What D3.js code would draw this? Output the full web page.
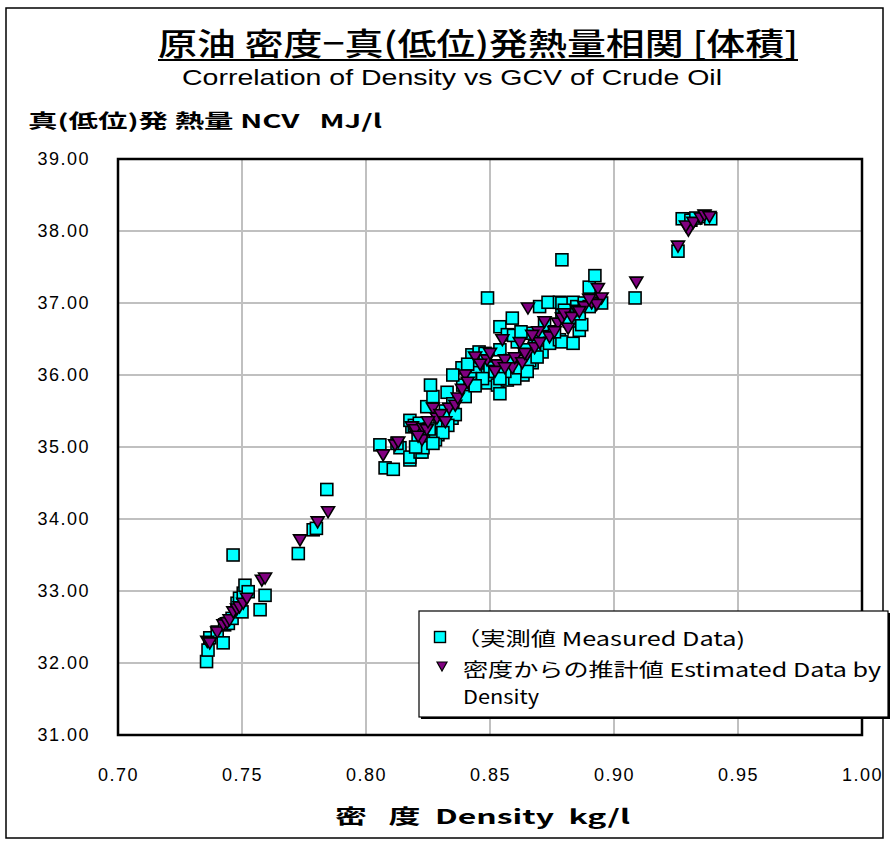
<!DOCTYPE html>
<html>
<head>
<meta charset="utf-8">
<script src="https://cdn.jsdelivr.net/npm/d3@7/dist/d3.min.js"></script>
<style>
  html, body { margin: 0; padding: 0; background: #fff; }
  svg { display: block; }
  .jp { font-family: "Noto Sans CJK JP", "Noto Sans", sans-serif; }
  .num { font-family: "Liberation Sans", Arial, sans-serif; }
  .narrow { font-family: "Liberation Sans Narrow", "Liberation Sans", Arial, sans-serif; }
</style>
</head>
<body>
<svg id="chart" width="893" height="842"></svg>
<script>
// Measured crude oil samples: [density kg/l, net calorific value MJ/l]
const measured = [
  [0.7357,32.02],[0.7363,32.18],[0.7370,32.35],[0.7400,32.43],[0.7424,32.28],[0.7430,32.53],
  [0.7445,32.55],[0.7460,32.62],[0.7480,32.83],[0.7490,32.90],[0.7500,32.71],[0.7505,32.97],
  [0.7512,33.08],[0.7525,32.99],[0.7573,32.74],[0.7593,32.94],[0.7464,33.50],
  [0.7727,33.52],[0.7787,33.85],[0.7800,33.87],[0.7842,34.41],
  [0.8056,35.03],[0.8077,34.71],[0.8110,34.69],[0.8137,34.99],[0.8125,35.05],[0.8177,34.82],
  [0.8177,34.86],[0.8218,34.93],[0.8226,34.93],[0.8230,35.05],[0.8230,34.99],[0.8185,35.28],
  [0.8177,35.37],[0.8245,35.56],[0.8270,35.70],[0.8260,35.86],[0.8290,35.17],[0.8298,35.35],
  [0.8327,35.76],[0.8347,35.40],[0.8390,35.86],[0.8400,35.70],[0.8387,36.10],[0.8427,36.28],
  [0.8448,36.10],[0.8456,36.32],[0.8490,35.89],[0.8490,36.00],[0.8490,37.07],[0.8530,35.86],
  [0.8540,35.74],[0.8540,36.35],[0.8540,36.67],[0.8570,36.56],[0.8570,35.93],[0.8590,36.79],
  [0.8610,36.46],[0.8633,36.00],[0.8653,36.58],[0.8670,36.17],[0.8700,36.95],[0.8700,36.56],
  [0.8710,36.32],[0.8734,37.01],[0.8740,36.44],[0.8780,37.01],[0.8780,36.49],[0.8790,36.83],
  [0.8790,37.00],[0.8790,37.60],[0.8790,36.46],[0.8835,37.01],[0.8835,36.44],[0.8860,36.62],
  [0.8900,37.22],[0.8923,37.38],[0.8950,37.00],
  [0.8320,35.50],[0.8350,35.60],[0.8360,35.45],[0.8420,35.95],[0.8450,36.20],[0.8480,36.30],
  [0.8280,35.10],[0.8210,35.15],[0.8240,35.30],[0.8500,36.10],[0.8520,36.05],[0.8600,35.95],
  [0.8620,36.10],[0.8660,36.20],[0.8680,36.40],[0.8720,36.70],[0.8760,36.60],[0.8820,36.75],
  [0.8800,36.90],[0.8850,36.95],[0.8870,36.70],[0.8880,37.00],[0.8900,36.95],[0.8860,36.85],
  [0.8640,36.35],[0.8580,36.20],[0.8560,36.05],[0.8470,35.95],[0.8440,35.85],[0.8330,35.30],
  [0.8310,35.20],[0.8270,35.05],[0.8200,35.00],
  [0.8195,35.30],[0.8215,35.33],[0.8255,35.25],[0.8350,36.00],[0.8410,36.15],[0.8595,36.55],
  [0.8625,36.60],[0.8650,36.05],[0.8540,35.95],[0.8690,36.25],
  [0.9085,37.07],[0.9258,37.72],[0.9275,38.17],[0.9310,38.15],[0.9330,38.18],[0.9365,38.20],
  [0.9390,38.17]
];

// Values estimated from density: [density kg/l, net calorific value MJ/l]
const estimated = [
  [0.7360,32.30],[0.7370,32.28],[0.7400,32.43],[0.7425,32.53],[0.7440,32.56],[0.7450,32.60],
  [0.7465,32.71],[0.7480,32.75],[0.7490,32.78],[0.7505,32.83],[0.7520,32.90],[0.7580,33.15],
  [0.7593,33.18],
  [0.7734,33.71],[0.7805,33.96],[0.7847,34.10],
  [0.8069,34.89],[0.8117,35.03],[0.8130,35.07],[0.8185,35.28],[0.8198,35.24],[0.8226,35.10],
  [0.8230,35.26],[0.8245,35.24],[0.8270,35.54],[0.8286,35.40],[0.8335,35.54],[0.8360,35.58],
  [0.8370,35.68],[0.8387,35.80],[0.8400,36.00],[0.8440,36.25],[0.8488,36.21],[0.8530,36.14],
  [0.8550,36.49],[0.8560,36.21],[0.8590,36.10],[0.8600,36.24],[0.8630,36.17],[0.8649,36.28],
  [0.8653,36.93],[0.8680,36.38],[0.8694,36.60],[0.8720,36.74],[0.8740,36.53],[0.8774,36.72],
  [0.8790,36.79],[0.8815,36.65],[0.8850,36.90],[0.8880,36.95],[0.8910,37.00],[0.8935,37.20],
  [0.8950,37.07],[0.8930,36.98],[0.8900,37.05],
  [0.8300,35.45],[0.8320,35.35],[0.8410,35.90],[0.8460,36.15],[0.8520,36.05],[0.8560,36.10],
  [0.8640,36.30],[0.8700,36.45],[0.8760,36.60],[0.8800,36.85],[0.8830,36.80],[0.8860,36.88],
  [0.8250,35.35],[0.8210,35.15],[0.8500,36.30],[0.8620,36.45],[0.8670,36.55],
  [0.9090,37.29],[0.9258,37.79],[0.9300,38.01],[0.9290,38.07],[0.9320,38.12],[0.9350,38.18],
  [0.9365,38.22],[0.9385,38.20]
];

const xTicks = [0.70, 0.75, 0.80, 0.85, 0.90, 0.95, 1.00];
const yTicks = [31, 32, 33, 34, 35, 36, 37, 38, 39];

const titleText = "原油 密度−真(低位)発熱量相関 [体積]";
const subtitleText = "Correlation of Density vs GCV of Crude Oil";
const yTitleText = "真(低位)発 熱量 NCV\u00a0\u00a0\u00a0MJ/l";
const xTitleText = "密\u00a0\u00a0\u00a0度\u00a0\u00a0Density\u00a0\u00a0kg/l";
const legendLabels = ["（実測値 Measured Data)", "密度からの推計値 Estimated Data by", "Density"];

const svg = d3.select("#chart");
const plot = { left: 118, right: 862, top: 159, bottom: 735 };

const x = d3.scaleLinear().domain([0.70, 1.00]).range([plot.left, plot.right]);
const y = d3.scaleLinear().domain([31, 39]).range([plot.bottom, plot.top]);

// Outer chart frame
svg.append("rect")
  .attr("x", 6).attr("y", 8).attr("width", 877).attr("height", 830)
  .attr("fill", "#fff").attr("stroke", "#000").attr("stroke-width", 1.5);

// Titles
svg.append("text").attr("class", "jp")
  .attr("x", 158).attr("y", 55)
  .attr("textLength", 640).attr("lengthAdjust", "spacingAndGlyphs")
  .attr("font-size", 31).attr("font-weight", 500)
  .text(titleText);
svg.append("line")
  .attr("x1", 158).attr("x2", 798).attr("y1", 60).attr("y2", 60)
  .attr("stroke", "#000").attr("stroke-width", 2);

svg.append("text").attr("class", "narrow")
  .attr("x", 182).attr("y", 85)
  .attr("textLength", 540).attr("lengthAdjust", "spacingAndGlyphs")
  .attr("font-size", 22)
  .text(subtitleText);

svg.append("text").attr("class", "jp")
  .attr("x", 28).attr("y", 128)
  .attr("textLength", 354).attr("lengthAdjust", "spacingAndGlyphs")
  .attr("font-size", 19).attr("font-weight", 700)
  .text(yTitleText);

// Gridlines
const grid = svg.append("g");
grid.selectAll("line.h").data(yTicks.filter(t => t > 31 && t < 39)).join("line")
  .attr("x1", plot.left).attr("x2", plot.right)
  .attr("y1", d => y(d)).attr("y2", d => y(d))
  .attr("stroke", "#c0c0c0").attr("stroke-width", 2);
grid.selectAll("line.v").data(xTicks.filter(t => t > 0.70 && t < 1.00)).join("line")
  .attr("x1", d => x(d)).attr("x2", d => x(d))
  .attr("y1", plot.top).attr("y2", plot.bottom)
  .attr("stroke", "#c0c0c0").attr("stroke-width", 2);

// Plot frame
svg.append("rect")
  .attr("x", plot.left).attr("y", plot.top)
  .attr("width", plot.right - plot.left).attr("height", plot.bottom - plot.top)
  .attr("fill", "none").attr("stroke", "#000").attr("stroke-width", 2.5);

// Axes (labels only; frame drawn above)
const yAxis = svg.append("g")
  .attr("transform", `translate(${plot.left - 28},0)`)
  .call(d3.axisLeft(y).tickValues(yTicks).tickSize(0).tickFormat(d3.format(".2f")));
yAxis.select(".domain").remove();
yAxis.selectAll("text").attr("class", "num").attr("font-size", 18)
  .attr("fill", "#000").attr("letter-spacing", "1.5px").attr("x", 0);

const xAxis = svg.append("g")
  .attr("transform", `translate(0,${plot.bottom + 30})`)
  .call(d3.axisBottom(x).tickValues(xTicks).tickSize(0).tickFormat(d3.format(".2f")));
xAxis.select(".domain").remove();
xAxis.selectAll("text").attr("class", "num").attr("font-size", 18)
  .attr("fill", "#000").attr("letter-spacing", "1.5px");

svg.append("text").attr("class", "jp")
  .attr("x", 335).attr("y", 824)
  .attr("textLength", 295).attr("lengthAdjust", "spacingAndGlyphs")
  .attr("font-size", 20).attr("font-weight", 700)
  .text(xTitleText);

// Markers
const triPath = "M-6.5,-5 L6.5,-5 L0,6 Z";
const sq = 12;

svg.append("g").selectAll("rect").data(measured).join("rect")
  .attr("x", d => x(d[0]) - sq / 2).attr("y", d => y(d[1]) - sq / 2)
  .attr("width", sq).attr("height", sq)
  .attr("fill", "#00ffff").attr("stroke", "#000").attr("stroke-width", 1.6);

svg.append("g").selectAll("path").data(estimated).join("path")
  .attr("transform", d => `translate(${x(d[0])},${y(d[1])})`)
  .attr("d", triPath)
  .attr("fill", "#800080").attr("stroke", "#000").attr("stroke-width", 1.6);

// Legend
const lg = svg.append("g");
lg.append("rect").attr("x", 421).attr("y", 613).attr("width", 469).attr("height", 106)
  .attr("fill", "#000");
lg.append("rect").attr("x", 419).attr("y", 611).attr("width", 469).attr("height", 106)
  .attr("fill", "#fff").attr("stroke", "#000").attr("stroke-width", 1.2);
lg.append("rect").attr("x", 440 - 5.5).attr("y", 637 - 5.5).attr("width", 11).attr("height", 11)
  .attr("fill", "#00ffff").attr("stroke", "#000").attr("stroke-width", 1.4);
lg.append("path").attr("transform", "translate(442,666)").attr("d", "M-5,-4 L5,-4 L0,5 Z")
  .attr("fill", "#800080").attr("stroke", "#000").attr("stroke-width", 1.2);
lg.append("text").attr("class", "jp").attr("x", 455).attr("y", 646)
  .attr("font-size", 19).attr("textLength", 290).attr("lengthAdjust", "spacingAndGlyphs")
  .text(legendLabels[0]);
lg.append("text").attr("class", "jp").attr("x", 463).attr("y", 677)
  .attr("font-size", 19).attr("textLength", 418).attr("lengthAdjust", "spacingAndGlyphs")
  .text(legendLabels[1]);
lg.append("text").attr("class", "jp").attr("x", 463).attr("y", 704)
  .attr("font-size", 19).attr("textLength", 76).attr("lengthAdjust", "spacingAndGlyphs")
  .text(legendLabels[2]);
</script>
</body>
</html>
